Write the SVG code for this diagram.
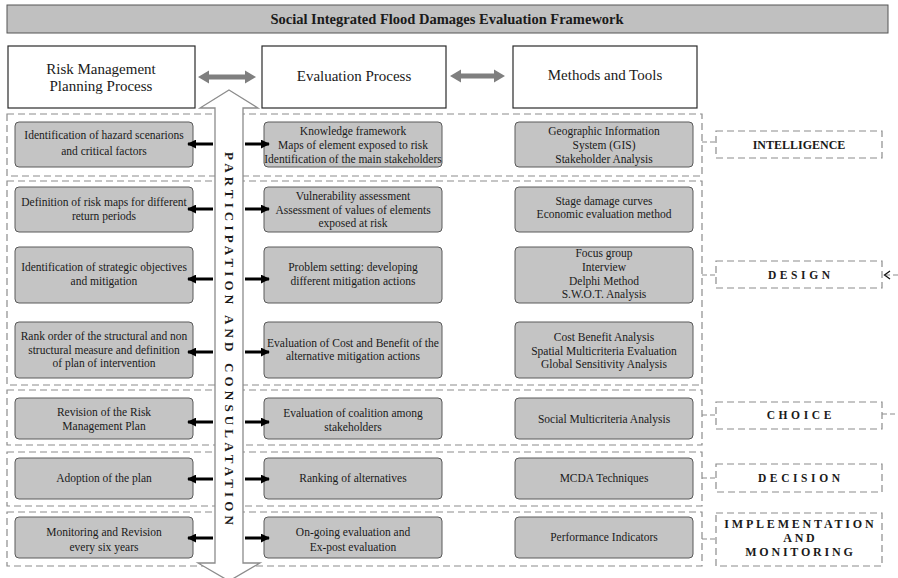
<svg xmlns="http://www.w3.org/2000/svg" width="898" height="578" viewBox="0 0 898 578">
  <style>
    text { font-family: "Liberation Serif", "Times New Roman", serif; fill: #1a1a1a; }
    .title { font-size: 14.5px; font-weight: bold; text-anchor: middle; }
    .head { font-size: 15px; text-anchor: middle; }
    .box { fill: #c4c4c4; stroke: #5a5a5a; stroke-width: 1; }
    .hbox { fill: #ffffff; stroke: #2a2a2a; stroke-width: 1.2; }
    .t { font-size: 11.5px; text-anchor: middle; }
    .phase { fill: none; stroke: #8c8c8c; stroke-width: 1.2; stroke-dasharray: 7 4; }
    .lbl { fill: #ffffff; stroke: #8c8c8c; stroke-width: 1.2; stroke-dasharray: 7 4; }
    .lt { font-size: 12px; font-weight: bold; text-anchor: middle; }
    .ls { font-size: 11.5px; letter-spacing: 3.6px; }
    .dash { fill: none; stroke: #8c8c8c; stroke-width: 1.2; stroke-dasharray: 5 3; }
    .blk { stroke: #000; stroke-width: 3; fill: none; }
    .garr { fill: #7f7f7f; }
  </style>
  <defs>
    <marker id="ah" viewBox="0 0 10 10" refX="9" refY="5" markerUnits="userSpaceOnUse" markerWidth="9" markerHeight="9" orient="auto">
      <path d="M0,0 L10,5 L0,10 Z" fill="#000"/>
    </marker>
  </defs>

  <!-- framework title bar -->
  <g id="title">
    <rect x="7" y="5" width="881" height="28" fill="#c0c0c0" stroke="#555" stroke-width="1"/>
    <text class="title" x="447" y="24">Social Integrated Flood Damages Evaluation Framework</text>
  </g>

  <!-- column headers -->
  <g id="head-risk">
    <rect class="hbox" x="8" y="46" width="187" height="62"/>
    <text class="head" x="101" y="74">Risk Management</text>
    <text class="head" x="101" y="91">Planning Process</text>
  </g>
  <g id="head-eval">
    <rect class="hbox" x="262" y="46" width="184" height="62"/>
    <text class="head" x="354" y="81">Evaluation Process</text>
  </g>
  <g id="head-methods">
    <rect class="hbox" x="513" y="46" width="184" height="62"/>
    <text class="head" x="605" y="80">Methods and Tools</text>
  </g>

  <!-- phase bands -->
  <g id="phases">
    <rect class="phase" x="7" y="114" width="695" height="62"/>
    <rect class="phase" x="7" y="181" width="695" height="204"/>
    <rect class="phase" x="7" y="390" width="695" height="55"/>
    <rect class="phase" x="7" y="452" width="695" height="54"/>
    <rect class="phase" x="7" y="512" width="695" height="54"/>
  </g>

  <!-- participation arrow running through all phases -->
  <g id="participation">
    <polygon points="229,90 258,108 243,108 243,563 260,563 229,581 198,563 215,563 215,108 200,108" fill="#ffffff" stroke="#8c8c8c" stroke-width="1.3"/>
    <text transform="translate(229,338.5) rotate(90)" x="0" y="4.5" font-size="13" font-weight="bold" text-anchor="middle" textLength="373" lengthAdjust="spacing">PARTICIPATION AND CONSULATATION</text>
  </g>

  <!-- row 1 -->
  <g id="r1-risk">
    <rect class="box" x="15" y="122" width="178" height="45" rx="4"/>
    <text class="t" x="104" y="139">Identification of hazard scenarions</text>
    <text class="t" x="104" y="155">and critical factors</text>
  </g>
  <g id="r1-eval">
    <rect class="box" x="264" y="122" width="178" height="45" rx="4"/>
    <text class="t" x="353" y="135">Knowledge framework</text>
    <text class="t" x="353" y="148.5">Maps of element exposed to risk</text>
    <text class="t" x="353" y="162.5">Identification of the main stakeholders</text>
  </g>
  <g id="r1-methods">
    <rect class="box" x="515" y="122" width="178" height="45" rx="4"/>
    <text class="t" x="604" y="135">Geographic Information</text>
    <text class="t" x="604" y="148.5">System (GIS)</text>
    <text class="t" x="604" y="162.5">Stakeholder Analysis</text>
  </g>

  <!-- row 2 -->
  <g id="r2-risk">
    <rect class="box" x="15" y="187" width="178" height="45" rx="4"/>
    <text class="t" x="104" y="205.5">Definition of risk maps for different</text>
    <text class="t" x="104" y="220">return periods</text>
  </g>
  <g id="r2-eval">
    <rect class="box" x="264" y="187" width="178" height="45" rx="4"/>
    <text class="t" x="353" y="200">Vulnerability assessment</text>
    <text class="t" x="353" y="213.5">Assessment of values of elements</text>
    <text class="t" x="353" y="227">exposed at risk</text>
  </g>
  <g id="r2-methods">
    <rect class="box" x="515" y="187" width="178" height="45" rx="4"/>
    <text class="t" x="604" y="204.5">Stage damage curves</text>
    <text class="t" x="604" y="218">Economic evaluation method</text>
  </g>

  <!-- row 3 -->
  <g id="r3-risk">
    <rect class="box" x="15" y="247" width="178" height="56" rx="4"/>
    <text class="t" x="104" y="271">Identification of strategic objectives</text>
    <text class="t" x="104" y="285">and mitigation</text>
  </g>
  <g id="r3-eval">
    <rect class="box" x="264" y="247" width="178" height="56" rx="4"/>
    <text class="t" x="353" y="271">Problem setting: developing</text>
    <text class="t" x="353" y="285">different mitigation actions</text>
  </g>
  <g id="r3-methods">
    <rect class="box" x="515" y="247" width="178" height="56" rx="4"/>
    <text class="t" x="604" y="257">Focus group</text>
    <text class="t" x="604" y="270.5">Interview</text>
    <text class="t" x="604" y="284.5">Delphi Method</text>
    <text class="t" x="604" y="298">S.W.O.T. Analysis</text>
  </g>

  <!-- row 4 -->
  <g id="r4-risk">
    <rect class="box" x="15" y="322" width="178" height="56" rx="4"/>
    <text class="t" x="104" y="340">Rank order of the structural and non</text>
    <text class="t" x="104" y="353.5">structural measure and definition</text>
    <text class="t" x="104" y="367">of plan of intervention</text>
  </g>
  <g id="r4-eval">
    <rect class="box" x="264" y="322" width="178" height="56" rx="4"/>
    <text class="t" x="353" y="346.5">Evaluation of Cost and Benefit of the</text>
    <text class="t" x="353" y="360">alternative mitigation actions</text>
  </g>
  <g id="r4-methods">
    <rect class="box" x="515" y="322" width="178" height="56" rx="4"/>
    <text class="t" x="604" y="341">Cost Benefit Analysis</text>
    <text class="t" x="604" y="354.5">Spatial Multicriteria Evaluation</text>
    <text class="t" x="604" y="368">Global Sensitivity Analysis</text>
  </g>

  <!-- row 5 -->
  <g id="r5-risk">
    <rect class="box" x="15" y="398" width="178" height="41" rx="4"/>
    <text class="t" x="104" y="416">Revision of the Risk</text>
    <text class="t" x="104" y="430">Management Plan</text>
  </g>
  <g id="r5-eval">
    <rect class="box" x="264" y="398" width="178" height="41" rx="4"/>
    <text class="t" x="353" y="417">Evaluation of coalition among</text>
    <text class="t" x="353" y="430.5">stakeholders</text>
  </g>
  <g id="r5-methods">
    <rect class="box" x="515" y="398" width="178" height="41" rx="4"/>
    <text class="t" x="604" y="422.5">Social Multicriteria Analysis</text>
  </g>

  <!-- row 6 -->
  <g id="r6-risk">
    <rect class="box" x="15" y="458" width="178" height="41" rx="4"/>
    <text class="t" x="104" y="482">Adoption of the plan</text>
  </g>
  <g id="r6-eval">
    <rect class="box" x="264" y="458" width="178" height="41" rx="4"/>
    <text class="t" x="353" y="482">Ranking of alternatives</text>
  </g>
  <g id="r6-methods">
    <rect class="box" x="515" y="458" width="178" height="41" rx="4"/>
    <text class="t" x="604" y="482">MCDA Techniques</text>
  </g>

  <!-- row 7 -->
  <g id="r7-risk">
    <rect class="box" x="15" y="517" width="178" height="41" rx="4"/>
    <text class="t" x="104" y="536">Monitoring and Revision</text>
    <text class="t" x="104" y="551">every six years</text>
  </g>
  <g id="r7-eval">
    <rect class="box" x="264" y="517" width="178" height="41" rx="4"/>
    <text class="t" x="353" y="536">On-going evaluation and</text>
    <text class="t" x="353" y="551">Ex-post evaluation</text>
  </g>
  <g id="r7-methods">
    <rect class="box" x="515" y="517" width="178" height="41" rx="4"/>
    <text class="t" x="604" y="541">Performance Indicators</text>
  </g>

  <!-- decision phase labels -->
  <g id="lbl-intelligence">
    <rect class="lbl" x="716" y="131" width="166" height="27"/>
    <text class="lt" x="799" y="148.5">INTELLIGENCE</text>
  </g>
  <g id="lbl-design">
    <rect class="lbl" x="716" y="261" width="166" height="27"/>
    <text class="lt ls" x="800.8" y="279">DESIGN</text>
  </g>
  <g id="lbl-choice">
    <rect class="lbl" x="716" y="402" width="166" height="27"/>
    <text class="lt ls" x="800.8" y="419">CHOICE</text>
  </g>
  <g id="lbl-decision">
    <rect class="lbl" x="716" y="464" width="166" height="28"/>
    <text class="lt ls" x="800.8" y="482">DECISION</text>
  </g>
  <g id="lbl-implementation">
    <rect class="lbl" x="716" y="513" width="166" height="53"/>
    <text class="lt" x="800.4" y="528" font-size="11.5" letter-spacing="2.8">IMPLEMENTATION</text>
    <text class="lt" x="800.4" y="541.5" font-size="11.5" letter-spacing="2.8">AND</text>
    <text class="lt" x="800.4" y="555.5" font-size="11.5" letter-spacing="2.8">MONITORING</text>
  </g>

  <g id="connectors">
    <!-- header links -->
    <polygon class="garr" points="198,77 209,70.5 209,74.5 245,74.5 245,70.5 256,77 245,83.5 245,79.5 209,79.5 209,83.5"/>
    <polygon class="garr" points="450,76 461,69.5 461,73.5 494,73.5 494,69.5 505,76 494,82.5 494,78.5 461,78.5 461,82.5"/>

    <!-- participation to planning (left) and evaluation (right) -->
    <line class="blk" x1="213" y1="144" x2="188" y2="144" marker-end="url(#ah)"/>
    <line class="blk" x1="245" y1="144" x2="269" y2="144" marker-end="url(#ah)"/>
    <line class="blk" x1="213" y1="209" x2="188" y2="209" marker-end="url(#ah)"/>
    <line class="blk" x1="245" y1="209" x2="269" y2="209" marker-end="url(#ah)"/>
    <line class="blk" x1="213" y1="279" x2="188" y2="279" marker-end="url(#ah)"/>
    <line class="blk" x1="245" y1="279" x2="269" y2="279" marker-end="url(#ah)"/>
    <line class="blk" x1="213" y1="352" x2="188" y2="352" marker-end="url(#ah)"/>
    <line class="blk" x1="245" y1="352" x2="269" y2="352" marker-end="url(#ah)"/>
    <line class="blk" x1="213" y1="422" x2="188" y2="422" marker-end="url(#ah)"/>
    <line class="blk" x1="245" y1="422" x2="269" y2="422" marker-end="url(#ah)"/>
    <line class="blk" x1="213" y1="479" x2="188" y2="479" marker-end="url(#ah)"/>
    <line class="blk" x1="245" y1="479" x2="269" y2="479" marker-end="url(#ah)"/>
    <line class="blk" x1="213" y1="538" x2="188" y2="538" marker-end="url(#ah)"/>
    <line class="blk" x1="245" y1="538" x2="269" y2="538" marker-end="url(#ah)"/>

    <!-- phase bands to their labels -->
    <line class="dash" x1="702" y1="142" x2="716" y2="142"/>
    <line class="dash" x1="702" y1="275" x2="716" y2="275"/>
    <line class="dash" x1="702" y1="415" x2="716" y2="415"/>
    <line class="dash" x1="702" y1="478" x2="716" y2="478"/>
    <line class="dash" x1="702" y1="539" x2="716" y2="539"/>

    <!-- feedback loop from choice back to design -->
    <line class="dash" x1="882" y1="414" x2="898" y2="414"/>
    <line class="dash" x1="898" y1="275" x2="886" y2="275"/>
    <polyline points="890,271 884.5,275 890,279" fill="none" stroke="#111" stroke-width="1.3"/>
  </g>
</svg>
